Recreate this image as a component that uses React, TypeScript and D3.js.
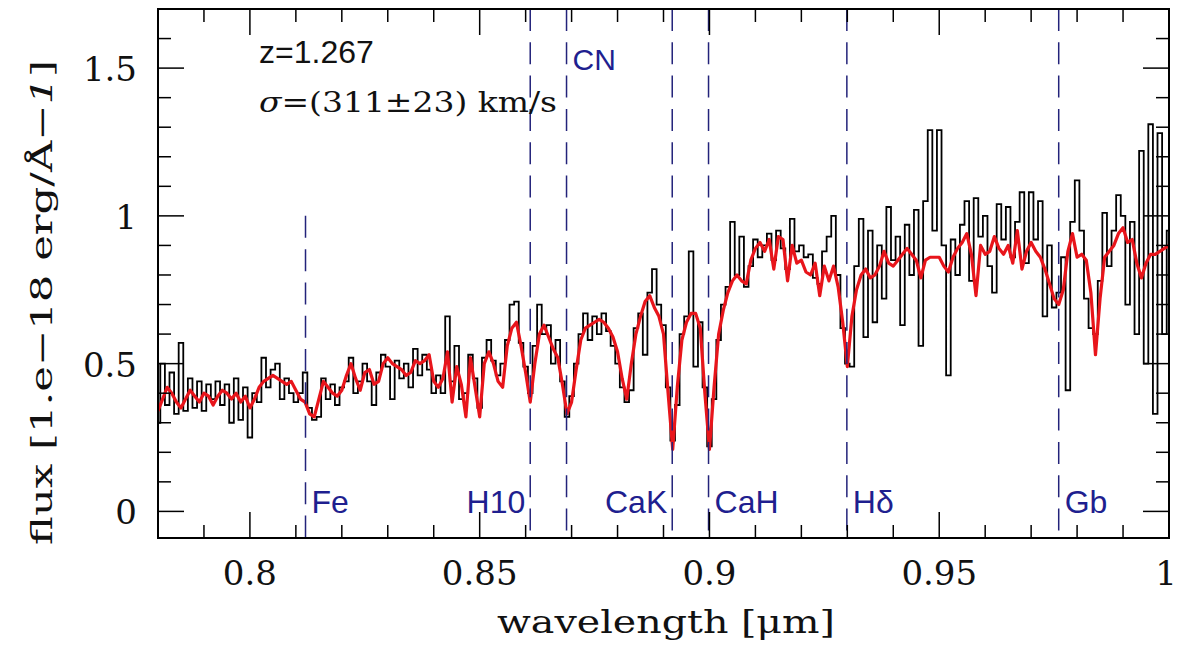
import React from "react";
import * as d3 from "d3";

// wavelength grid (micron) for both spectra
const WAVE_START = 0.78;
const WAVE_STEP = 0.001;

// observed spectrum (black), flux in 1e-18 erg/s/cm2/A
const observedFlux = [
  0.30, 0.50, 0.36, 0.47, 0.33, 0.57, 0.34, 0.45, 0.35, 0.44,
  0.34, 0.43, 0.38, 0.44, 0.36, 0.43, 0.30, 0.45, 0.31, 0.42,
  0.25, 0.40, 0.37, 0.52, 0.42, 0.48, 0.50, 0.38, 0.45, 0.40,
  0.37, 0.40, 0.47, 0.35, 0.31, 0.32, 0.45, 0.38, 0.43, 0.36,
  0.42, 0.44, 0.52, 0.40, 0.44, 0.50, 0.44, 0.36, 0.47, 0.53,
  0.49, 0.38, 0.51, 0.45, 0.50, 0.42, 0.55, 0.46, 0.53, 0.48,
  0.40, 0.46, 0.40, 0.66, 0.44, 0.56, 0.38, 0.40, 0.53, 0.45,
  0.35, 0.52, 0.58, 0.51, 0.46, 0.50, 0.58, 0.70, 0.71, 0.57,
  0.49, 0.40, 0.56, 0.70, 0.60, 0.63, 0.50, 0.58, 0.44, 0.32,
  0.39, 0.50, 0.60, 0.67, 0.58, 0.66, 0.60, 0.67, 0.61, 0.56,
  0.50, 0.42, 0.37, 0.41, 0.62, 0.67, 0.53, 0.74, 0.82, 0.70,
  0.63, 0.42, 0.24, 0.36, 0.60, 0.66, 0.88, 0.49, 0.64, 0.42,
  0.22, 0.38, 0.58, 0.70, 0.76, 0.98, 0.80, 0.93, 0.76, 0.83,
  0.92, 0.86, 0.90, 0.94, 0.85, 0.95, 0.89, 0.82, 0.99, 0.88,
  0.90, 0.86, 0.87, 0.79, 0.77, 0.88, 0.93, 1.00, 0.80, 0.62,
  0.50, 0.49, 0.83, 0.99, 0.59, 0.95, 0.64, 0.90, 0.72, 1.03,
  0.85, 0.93, 0.63, 0.97, 0.80, 1.02, 0.56, 1.05, 1.29, 0.95,
  1.29, 0.90, 0.46, 0.92, 0.80, 0.97, 1.05, 0.78, 1.06, 0.93,
  1.00, 0.83, 0.74, 1.04, 0.92, 1.03, 0.86, 0.98, 1.08, 0.84,
  1.08, 0.92, 1.05, 0.66, 0.90, 0.69, 0.74, 0.86, 0.41, 0.98,
  1.12, 0.95, 0.72, 0.62, 0.60, 0.78, 1.01, 0.83, 0.95, 1.07,
  1.00, 0.70, 0.98, 0.60, 1.22, 0.50, 1.31, 0.33, 1.28, 0.60,
  0.95,
];

// best-fit model spectrum (red)
const modelFlux = [
  0.34, 0.38, 0.42, 0.40, 0.37, 0.35, 0.38, 0.41, 0.39, 0.37,
  0.40, 0.39, 0.36, 0.39, 0.41, 0.40, 0.38, 0.40, 0.37, 0.39,
  0.35, 0.38, 0.42, 0.44, 0.45, 0.46, 0.45, 0.44, 0.43, 0.44,
  0.41, 0.38, 0.37, 0.33, 0.32, 0.38, 0.44, 0.42, 0.40, 0.39,
  0.41, 0.46, 0.50, 0.45, 0.41, 0.47, 0.48, 0.43, 0.44, 0.50,
  0.52, 0.50, 0.49, 0.48, 0.46, 0.47, 0.51, 0.50, 0.51, 0.53,
  0.44, 0.42, 0.45, 0.54, 0.37, 0.49, 0.43, 0.32, 0.52, 0.42,
  0.32, 0.50, 0.54, 0.50, 0.44, 0.42, 0.56, 0.62, 0.64, 0.56,
  0.47, 0.37, 0.50, 0.60, 0.63, 0.59, 0.55, 0.52, 0.43, 0.33,
  0.37, 0.48, 0.58, 0.62, 0.63, 0.64, 0.65, 0.64, 0.62, 0.59,
  0.54, 0.45, 0.38, 0.50, 0.60, 0.66, 0.71, 0.73, 0.69, 0.66,
  0.60, 0.40, 0.21, 0.42, 0.58, 0.64, 0.67, 0.67, 0.62, 0.40,
  0.21, 0.42, 0.60, 0.68, 0.74, 0.78, 0.80, 0.78, 0.77, 0.85,
  0.89, 0.91, 0.88, 0.92, 0.82, 0.93, 0.92, 0.78, 0.90, 0.84,
  0.85, 0.81, 0.80, 0.84, 0.73, 0.83, 0.78, 0.83, 0.76, 0.64,
  0.49, 0.66, 0.75, 0.80, 0.82, 0.79, 0.80, 0.83, 0.88, 0.84,
  0.83, 0.85, 0.87, 0.89, 0.87, 0.85, 0.79, 0.85, 0.86, 0.86,
  0.86, 0.83, 0.81, 0.86, 0.89, 0.91, 0.94, 0.87, 0.73, 0.90,
  0.87, 0.88, 0.93, 0.89, 0.87, 0.90, 0.84, 0.95, 0.82, 0.88,
  0.91, 0.88, 0.86, 0.82, 0.77, 0.72, 0.70, 0.75, 0.88, 0.94,
  0.86, 0.87, 0.85, 0.74, 0.53, 0.72, 0.86, 0.88, 0.90, 0.94,
  0.96, 0.91, 0.92, 0.84, 0.79, 0.84, 0.87, 0.87, 0.88, 0.89,
  0.90,
];

// spectral features: name, wavelength, label side, top of dashed line (flux or null = top of frame)
const featureNames = ["Fe", "H10", "CN", "CaK", "CaH", "Hδ", "Gb"];
const featureWaves = [0.8121, 0.861, 0.8689, 0.8919, 0.8998, 0.9299, 0.976];
const featureSides = ["right", "left", "right", "left", "right", "right", "right"];
const featureTops: (number | null)[] = [1.0, null, null, null, null, null, null];
const featureLabelRows = ["bottom", "bottom", "top", "bottom", "bottom", "bottom", "bottom"];

const xTickLabels = [0.8, 0.85, 0.9, 0.95, 1];
const yTickLabels = [0, 0.5, 1, 1.5];

const W = 1178;
const H = 646;
const L = 158, R = 1169, T = 9, B = 538;

export default function App() {
  const x = d3.scaleLinear().domain([0.78, 1.0]).range([L, R]);
  const y = d3.scaleLinear().domain([-0.09, 1.7]).range([B, T]);

  const obs = observedFlux.map((f, i) => [WAVE_START + i * WAVE_STEP, f] as [number, number]);
  const mod = modelFlux.map((f, i) => [WAVE_START + i * WAVE_STEP, f] as [number, number]);

  const stepLine = d3.line<[number, number]>().x(d => x(d[0])).y(d => y(d[1])).curve(d3.curveStep);
  const smoothLine = d3.line<[number, number]>().x(d => x(d[0])).y(d => y(d[1]));

  const xMinor = d3.range(78, 101).map(v => v / 100);
  const yMinor = d3.range(0, 18).map(v => v / 10);

  const blue = "#1f1f8f";
  const tickFont = "'DejaVu Serif', serif";

  return (
    <svg width={W} height={H} style={{ position: "absolute", left: 0, top: 0, background: "#fff" }}>
      <defs>
        <clipPath id="plotclip">
          <rect x={L} y={T} width={R - L} height={B - T} />
        </clipPath>
      </defs>

      <g clipPath="url(#plotclip)">
        <path d={stepLine(obs) || ""} fill="none" stroke="#000" strokeWidth={1.8} />
        <path d={smoothLine(mod) || ""} fill="none" stroke="#e8151b" strokeWidth={3.2} strokeLinejoin="round" />
        {featureWaves.map((w, i) => (
          <line
            key={featureNames[i]}
            x1={x(w)} x2={x(w)}
            y1={featureTops[i] == null ? T : y(featureTops[i] as number)}
            y2={B}
            stroke="#23237a" strokeWidth={1.5} strokeDasharray="22,11.3"
          />
        ))}
      </g>

      {/* feature labels */}
      {featureWaves.map((w, i) => {
        const right = featureSides[i] === "right";
        const top = featureLabelRows[i] === "top";
        return (
          <text
            key={"lab" + featureNames[i]}
            x={x(w) + (right ? 6 : -5)}
            y={top ? 70 : 513}
            textAnchor={right ? "start" : "end"}
            fontFamily="'Liberation Sans', Arial, sans-serif"
            fontSize={top ? 30 : 32}
            fill={blue}
          >
            {featureNames[i]}
          </text>
        );
      })}

      {/* frame */}
      <rect x={L} y={T} width={R - L} height={B - T} fill="none" stroke="#000" strokeWidth={2} />

      {/* x ticks bottom & top */}
      {xMinor.map(v => {
        const major = xTickLabels.some(t => Math.abs(t - v) < 1e-9);
        const len = major ? 26 : 13;
        return (
          <g key={"xt" + v}>
            <line x1={x(v)} x2={x(v)} y1={B} y2={B - len} stroke="#000" strokeWidth={1.5} />
            <line x1={x(v)} x2={x(v)} y1={T} y2={T + len} stroke="#000" strokeWidth={1.5} />
          </g>
        );
      })}
      {yMinor.map(v => {
        const major = yTickLabels.some(t => Math.abs(t - v) < 1e-9);
        const len = major ? 26 : 13;
        return (
          <g key={"yt" + v}>
            <line x1={L} x2={L + len} y1={y(v)} y2={y(v)} stroke="#000" strokeWidth={1.5} />
            <line x1={R} x2={R - len} y1={y(v)} y2={y(v)} stroke="#000" strokeWidth={1.5} />
          </g>
        );
      })}

      {/* tick labels */}
      {xTickLabels.map(v => (
        <text key={"xl" + v} x={Math.min(x(v), W - 12)} y={585} textAnchor="middle" fontFamily={tickFont} fontSize={34} fill="#111">
          {String(v)}
        </text>
      ))}
      {yTickLabels.map(v => (
        <text key={"yl" + v} x={137} y={y(v) + 13} textAnchor="end" fontFamily={tickFont} fontSize={34} fill="#111">
          {String(v)}
        </text>
      ))}

      {/* axis titles */}
      <text x={497} y={633} fontFamily={tickFont} fontSize={32} fill="#111" textLength={338} lengthAdjust="spacingAndGlyphs">
        wavelength [μm]
      </text>
      <text
        transform="translate(52,545) rotate(-90)"
        x={0} y={0}
        fontFamily={tickFont} fontSize={30} fill="#111"
        textLength={485} lengthAdjust="spacingAndGlyphs"
      >
        flux [1.e−18 erg/Å−<tspan fontStyle="italic">1</tspan>]
      </text>

      {/* annotations */}
      <text x={259} y={63} fontFamily="'Liberation Sans', Arial, sans-serif" fontSize={32} fill="#111">
        z=1.267
      </text>
      <text x={259} y={112} fontFamily={tickFont} fontSize={28} fill="#111" textLength={298} lengthAdjust="spacingAndGlyphs">
        <tspan fontStyle="italic">σ</tspan>=(311±23) km/s
      </text>
    </svg>
  );
}
